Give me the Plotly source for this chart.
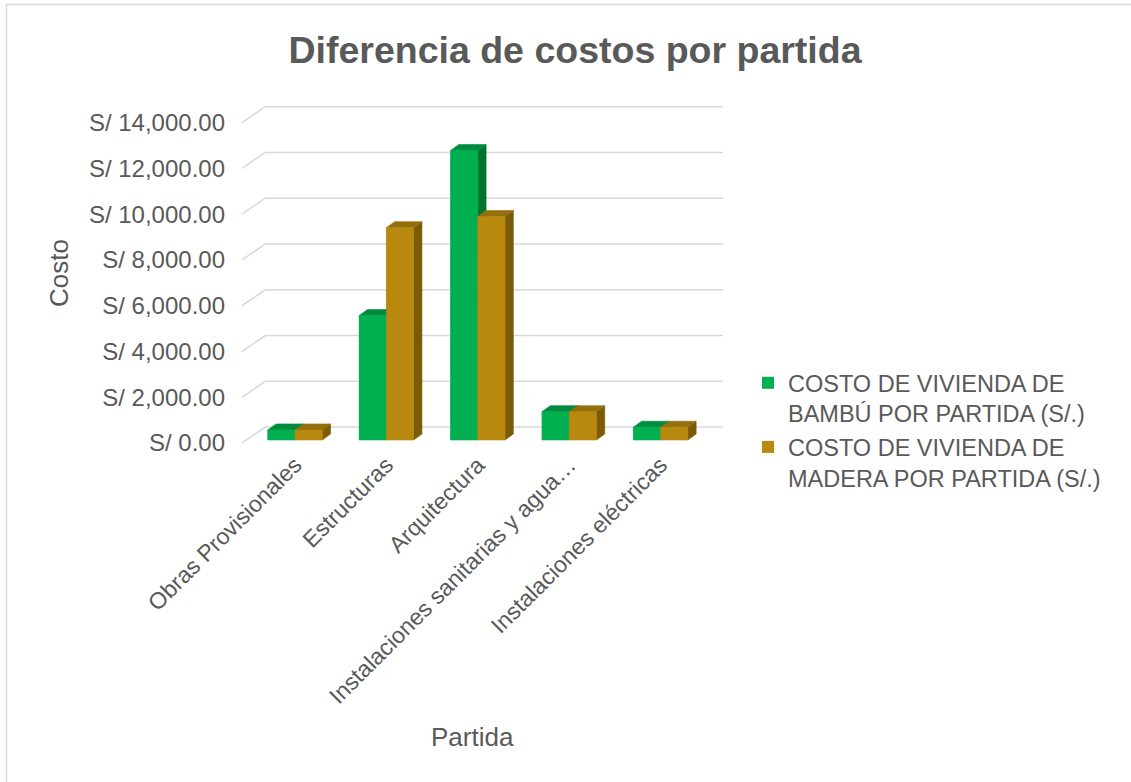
import plotly.graph_objects as go

# ---------------- data ----------------
categories = ["Obras Provisionales", "Estructuras", "Arquitectura",
              "Instalaciones sanitarias y agua…", "Instalaciones eléctricas"]
bambu = [440, 5440, 12650, 1240, 560]
madera = [440, 9280, 9770, 1240, 560]
series_names = ["COSTO DE VIVIENDA DE<br>BAMBÚ POR PARTIDA (S/.)",
                "COSTO DE VIVIENDA DE<br>MADERA POR PARTIDA (S/.)"]
tick_values = [0, 2000, 4000, 6000, 8000, 10000, 12000, 14000]
tick_labels = ["S/ 0.00", "S/ 2,000.00", "S/ 4,000.00", "S/ 6,000.00",
               "S/ 8,000.00", "S/ 10,000.00", "S/ 12,000.00", "S/ 14,000.00"]

# ---------------- styling / geometry ----------------
W, H = 1131, 782
PL, PR, PT, PB = 242, 723, 100, 446          # plot area in px
CAT_PX = 91.4                                 # px per category
CAT0_PX = 295                                 # px of category 0 (bar front join)
Y0_PX = 440                                   # px of value 0 at bar front
VAL_PX = 0.02288                              # px per unit value
xr = [(PL - CAT0_PX) / CAT_PX, (PR - CAT0_PX) / CAT_PX]
yr = [(Y0_PX - PB) / VAL_PX, (Y0_PX - PT) / VAL_PX]

FRONT_DY = -131          # value offset of front plane
WALL_DY = 568            # value offset of back wall
WALL_DX = 23.3 / CAT_PX  # x offset of back wall
BW = 0.298               # bar width (category units)
DX = 8.3 / CAT_PX        # bar depth, x
DY = 6.0 / VAL_PX        # bar depth, y

TXT = "#595959"
FONT = "Liberation Sans, Arial, sans-serif"
GRID = "#d9d9d9"

colors = {
    0: dict(front="#00B050", top="#008C3E", side="#00732F"),
    1: dict(front="#B8880F", top="#93700D", side="#7A5B07"),
}

fig = go.Figure()

# gridlines: back wall + slanted side-wall lines
for v in tick_values:
    xs = [xr[0], xr[0] + WALL_DX, xr[1]]
    ys = [v + FRONT_DY, v + WALL_DY, v + WALL_DY]
    fig.add_trace(go.Scatter(x=xs, y=ys, mode="lines",
                             line=dict(color=GRID, width=1.6),
                             hoverinfo="skip", showlegend=False))

# legend / base bars (front faces)
for s, vals in enumerate([bambu, madera]):
    fig.add_trace(go.Bar(x=list(range(len(categories))), y=vals, base=0,
                         width=BW, offset=-BW if s == 0 else 0,
                         marker=dict(color=colors[s]["front"], line=dict(width=0)),
                         name=series_names[s], showlegend=True))

# pseudo-3D faces in painter's order
def poly(xs, ys, color):
    fig.add_trace(go.Scatter(x=xs + [xs[0]], y=ys + [ys[0]], mode="lines",
                             fill="toself", fillcolor=color,
                             line=dict(color=color, width=0.6),
                             hoverinfo="skip", showlegend=False))

for i in range(len(categories)):
    for s, vals in enumerate([bambu, madera]):
        v = vals[i]
        x0 = i - BW if s == 0 else i
        x1 = x0 + BW
        c = colors[s]
        poly([x1, x1 + DX, x1 + DX, x1], [0, DY, v + DY, v], c["side"])
        poly([x0, x1, x1 + DX, x0 + DX], [v, v, v + DY, v + DY], c["top"])
        poly([x0, x1, x1, x0], [0, 0, v, v], c["front"])

# outer border
fig.add_shape(type="rect", xref="paper", yref="paper",
              x0=(6.5 - PL) / (PR - PL), x1=2.0,
              y0=-1.5, y1=(PB - 4.5) / (PB - PT),
              line=dict(color=GRID, width=1.5), fillcolor="rgba(0,0,0,0)",
              layer="below")

# x-axis title
fig.add_annotation(text="Partida", xref="paper", yref="paper",
                   x=(472 - PL) / (PR - PL), y=(PB - 737) / (PB - PT),
                   xanchor="center", yanchor="middle", showarrow=False,
                   font=dict(size=26, color=TXT, family=FONT))

fig.update_layout(
    width=W, height=H,
    margin=dict(l=PL, r=W - PR, t=PT, b=H - PB),
    paper_bgcolor="white", plot_bgcolor="white",
    barmode="overlay",
    font=dict(family=FONT, color=TXT, size=24),
    title=dict(text="<b>Diferencia de costos por partida</b>",
               font=dict(size=37.5, color=TXT, family=FONT),
               x=575 / W, xref="container", xanchor="center",
               y=1 - 50 / H, yref="container", yanchor="middle"),
    xaxis=dict(range=xr, tickvals=list(range(len(categories))), ticktext=categories,
               tickangle=-45, showgrid=False, zeroline=False, showline=False,
               ticks="", automargin=False, tickfont=dict(size=23, color=TXT)),
    yaxis=dict(range=yr, tickvals=[v + FRONT_DY for v in tick_values], ticktext=tick_labels,
               showgrid=False, zeroline=False, showline=False, ticks="",
               automargin=False, ticklabelstandoff=16,
               tickfont=dict(size=24, color=TXT),
               title=dict(text="Costo", font=dict(size=26, color=TXT), standoff=12)),
    legend=dict(x=(748 - PL) / (PR - PL), xanchor="left",
                y=(PB - 361) / (PB - PT), yanchor="top", valign="top",
                font=dict(size=23.5, color=TXT), bgcolor="rgba(0,0,0,0)",
                tracegroupgap=3),
    showlegend=True,
)

fig.write_html("out.html", config={"displayModeBar": False},
               post_script="document.body.style.margin='0';document.body.style.overflow='hidden';")
